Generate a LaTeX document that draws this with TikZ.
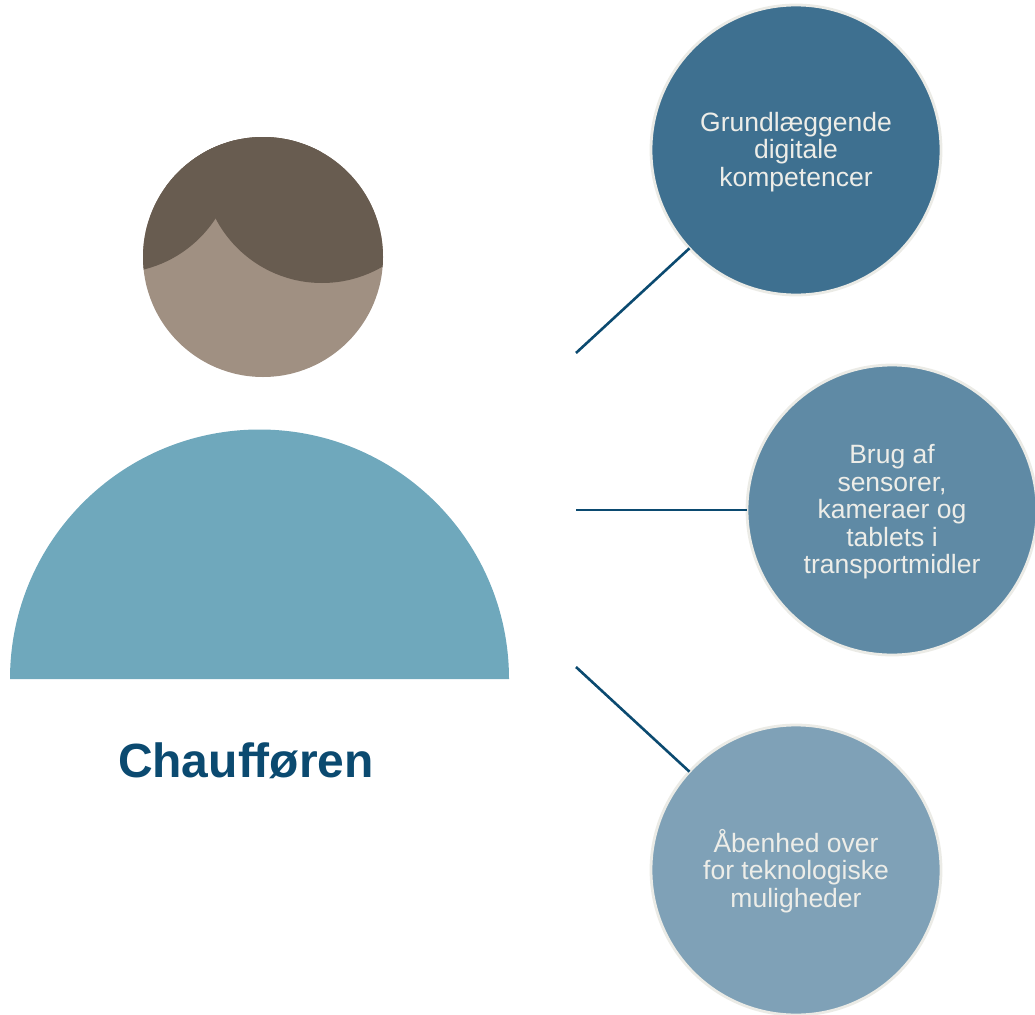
\documentclass[tikz,border=0pt]{standalone}
\usepackage{fontspec}
\setmainfont{Liberation Sans}
\definecolor{hair}{HTML}{685C50}
\definecolor{face}{HTML}{A09082}
\definecolor{torso}{HTML}{6FA8BC}
\definecolor{navy}{HTML}{0B4A70}
\definecolor{ringc}{HTML}{EBEBE6}
\definecolor{blueA}{HTML}{3E7090}
\definecolor{blueB}{HTML}{5F8AA5}
\definecolor{blueC}{HTML}{7FA1B7}
\definecolor{labelc}{HTML}{EDEDE8}
\tikzset{
  topic/.style={circle,draw=ringc,line width=2.8pt,minimum size=290pt,inner sep=0pt,outer sep=0pt,
    text=labelc,align=center,font=\fontsize{26.5}{27.5}\selectfont},
  link/.style={draw=navy,line width=2.6pt},
  title/.style={text=navy,font=\fontsize{48}{50}\selectfont\bfseries,inner sep=0pt}
}
\begin{document}
\begin{tikzpicture}[x=1pt,y=-1pt]
\useasboundingbox (0,0) rectangle (1035,1014);
% head
\fill[face] (263,257) circle[radius=120pt];
\begin{scope}
  \clip (263,257) circle[radius=120pt];
  \fill[hair] (115,153) circle[radius=120pt];
  \fill[hair] (322,163) circle[radius=120pt];
  \fill[hair] (115,153) -- (216,218) -- (322,163) -- (322,0) -- (115,0) -- cycle;
\end{scope}
% body
\fill[torso] (10,679) arc[start angle=180,end angle=0,radius=249.5pt] -- cycle;
\node[title] (name) at (246,761) {Chaufføren};
% topics
\node[topic,fill=blueA] (c1) at (796,150) {\rule{0pt}{23pt}Grundlæggende\\digitale\\kompetencer};
\node[topic,fill=blueB] (c2) at (892,510) {\rule{0pt}{23pt}Brug af\\sensorer,\\kameraer og\\tablets i\\transportmidler};
\node[topic,fill=blueC] (c3) at (796,870) {\rule{0pt}{25pt}Åbenhed over\\for teknologiske\\muligheder};
\coordinate (s1) at (576,353);
\coordinate (s2) at (576,510);
\coordinate (s3) at (576,667);
\draw[link] (s1) -- (c1);
\draw[link] (s2) -- (c2);
\draw[link] (s3) -- (c3);
\end{tikzpicture}
\end{document}
